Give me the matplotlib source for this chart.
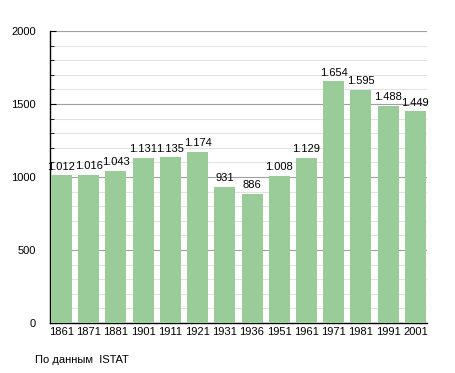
import matplotlib.pyplot as plt
import numpy as np

plt.rcParams['font.family'] = ['Liberation Sans', 'DejaVu Sans']

years = ['1861', '1871', '1881', '1901', '1911', '1921', '1931', '1936',
         '1951', '1961', '1971', '1981', '1991', '2001']
population = [1012, 1016, 1043, 1131, 1135, 1174, 931, 886,
              1008, 1129, 1654, 1595, 1488, 1449]

fig = plt.figure(figsize=(4.55, 3.73), dpi=100)
ax = fig.add_axes([0.11, 0.134, 0.828, 0.783])

x = np.arange(len(years))
bars = ax.bar(x, population, width=0.77, color='#99cc99', zorder=3)

for xi, v in zip(x, population):
    label = f'{v:,}'.replace(',', '.')
    ax.text(xi, v + 25, label, ha='center', va='bottom', fontsize=8, zorder=4)

ax.set_xlim(-0.42, len(years) - 0.58)
ax.set_ylim(0, 2000)
ax.set_xticks(x)
ax.set_xticklabels(years, fontsize=8)
ax.set_yticks(np.arange(0, 2001, 500))
ax.set_yticks(np.arange(0, 2001, 100), minor=True)
ax.tick_params(axis='y', labelsize=8, length=4, direction='in', pad=10)
ax.tick_params(axis='y', which='minor', length=3, direction='in')
ax.tick_params(axis='x', length=0, pad=3)

ax.grid(axis='y', which='major', color='#a0a0a0', linewidth=0.8, zorder=0)
ax.grid(axis='y', which='minor', color='#e2e2e2', linewidth=0.8, zorder=0)

for s in ['top', 'right']:
    ax.spines[s].set_visible(False)
ax.spines['left'].set_linewidth(1.0)
ax.spines['bottom'].set_linewidth(1.0)

fig.text(0.077, 0.035, 'По данным  ISTAT', fontsize=8, ha='left', va='center')

plt.savefig('out.png', dpi=100)
